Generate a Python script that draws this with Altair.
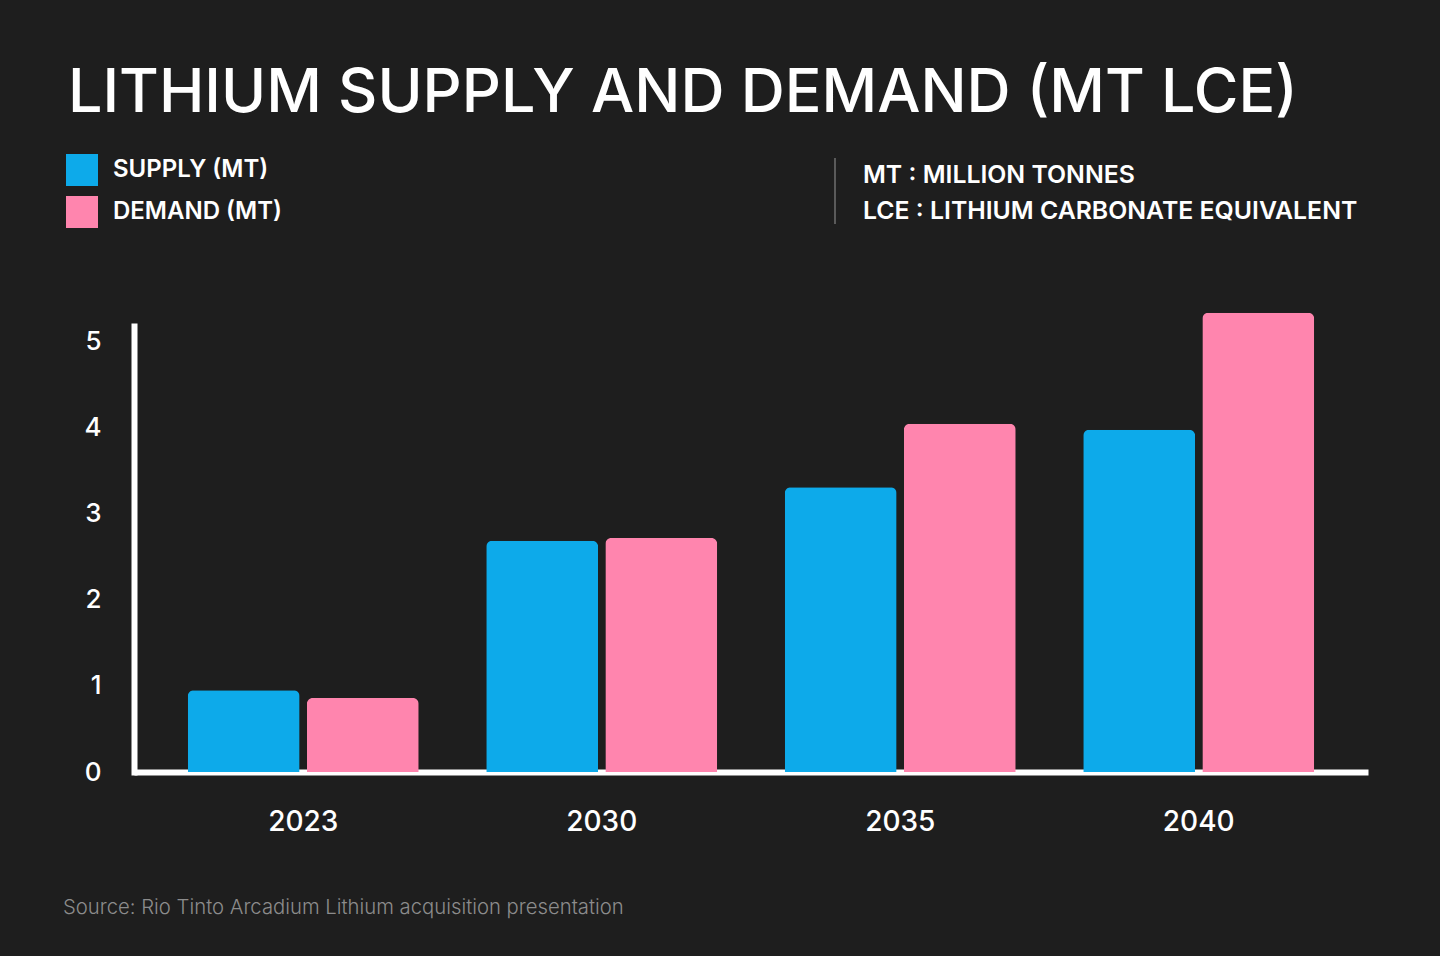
import altair as alt
import pandas as pd

years = ["2023", "2030", "2035", "2040"]
supply = [0.95, 2.69, 3.31, 3.98]
demand = [0.86, 2.72, 4.05, 5.34]
series_names = ["SUPPLY (MT)", "DEMAND (MT)"]
series_colors = ["#0DAAEA", "#FF85AE"]
y_ticks = [0, 1, 2, 3, 4, 5]

title_text = "LITHIUM SUPPLY AND DEMAND (MT LCE)"
note_lines = ["MT : MILLION TONNES", "LCE : LITHIUM CARBONATE EQUIVALENT"]
source_text = "Source: Rio Tinto Arcadium Lithium acquisition presentation"

rows = []
for i, y in enumerate(years):
    rows.append({"year": y, "series": series_names[0], "value": supply[i]})
    rows.append({"year": y, "series": series_names[1], "value": demand[i]})
df = pd.DataFrame(rows)

FONT = "Inter"
BG = "#1e1e1e"

bars = alt.Chart(df).mark_bar(cornerRadiusTopLeft=6, cornerRadiusTopRight=6).encode(
    x=alt.X("year:N", sort=years,
            scale=alt.Scale(paddingInner=0.226, paddingOuter=0.18),
            axis=alt.Axis(title=None, labelAngle=0, labelFontSize=28, labelFontWeight=500,
                          labelColor="#ffffff", labelFont=FONT, labelPadding=36,
                          ticks=False, domainColor="#ffffff", domainWidth=6)),
    xOffset=alt.XOffset("series:N", sort=series_names,
                        scale=alt.Scale(paddingInner=0.06, paddingOuter=0)),
    y=alt.Y("value:Q", scale=alt.Scale(domain=[0, 5.186], nice=False),
            axis=alt.Axis(title=None, values=y_ticks, labelFontSize=26, labelFontWeight=500,
                          labelColor="#ffffff", labelFont=FONT, labelPadding=33,
                          ticks=False, grid=False, domainColor="#ffffff", domainWidth=6,
                          domainCap="square")),
    color=alt.Color("series:N", sort=series_names,
                    scale=alt.Scale(domain=series_names, range=series_colors),
                    legend=alt.Legend(title=None, orient="none", legendX=-68, legendY=-172,
                                      symbolType="square", symbolSize=1024,
                                      symbolStrokeWidth=0, labelFontSize=24,
                                      labelFontWeight=600, labelColor="#ffffff",
                                      labelFont=FONT, labelOffset=15, rowPadding=10,
                                      labelLimit=400, padding=0)),
)

title = alt.Chart(pd.DataFrame({"t": [title_text]})).mark_text(
    align="left", baseline="alphabetic", fontSize=61, fontWeight=500, font=FONT,
    color="#ffffff"
).encode(x=alt.value(-66), y=alt.value(-214), text="t:N")

notes = alt.Chart(pd.DataFrame({"t": note_lines, "yy": [-143, -107]})).mark_text(
    align="left", baseline="alphabetic", fontSize=24.8, fontWeight=600, font=FONT,
    color="#ffffff"
).encode(x=alt.value(729), y=alt.Y("yy:Q", scale=None), text="t:N")

divider = alt.Chart(pd.DataFrame({"a": [0]})).mark_rule(color="#5a5a5a", strokeWidth=2).encode(
    x=alt.value(701), y=alt.value(-168), y2=alt.value(-102)
)

source = alt.Chart(pd.DataFrame({"t": [source_text]})).mark_text(
    align="left", baseline="middle", fontSize=20.3, fontWeight=300, font=FONT,
    color="#8c8c8c"
).encode(x=alt.value(-71), y=alt.value(582), text="t:N")

chart = alt.layer(bars, divider, title, notes, source).properties(
    width=1234, height=446,
    autosize=alt.AutoSizeParams(type="none"),
    padding={"left": 134, "top": 326, "right": 72, "bottom": 184},
    background=BG,
).configure_view(stroke=None)

chart.save("out.html", embed_options={"renderer": "svg", "actions": False})
